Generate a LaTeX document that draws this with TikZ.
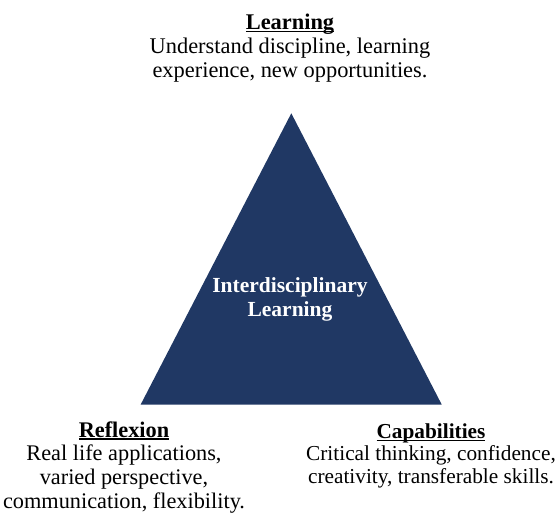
\documentclass[tikz,border=0pt]{standalone}
\usepackage{fontspec}
\setmainfont{Liberation Serif}

\definecolor{navy}{HTML}{203864}

% bold heading with a rule just under the baseline
\newcommand{\headline}[1]{\setbox0\hbox{\textbf{#1}}\rlap{\rule[-2.6pt]{\wd0}{1.3pt}}\box0}

\begin{document}
\begin{tikzpicture}[x=1pt, y=-1pt]
  \tikzset{
    corner/.style={align=center, anchor=base, inner sep=0pt},
    core/.style={align=center, anchor=base, inner sep=0pt, text=white,
                 font=\fontsize{21.5}{23.5}\selectfont\bfseries}
  }
  \useasboundingbox (0,0) rectangle (560,514);

  % the triangle
  \coordinate (apex) at (291.3,113.3);
  \coordinate (baseL) at (140.7,404.5);
  \coordinate (baseR) at (441.7,404.5);
  \fill[navy] (apex) -- (baseL) -- (baseR) -- cycle;

  % base anchor sits on the last line
  \node[core] (idl) at (290,316) {Interdisciplinary\\Learning};

  % the three corners
  \node[corner, font=\fontsize{22.4}{24}\selectfont] (learning) at (290,77.5)
    {\headline{Learning}\\Understand discipline, learning\\experience, new opportunities.};
  \node[corner, font=\fontsize{22.3}{23.8}\selectfont] (reflexion) at (124,508.5)
    {\headline{Reflexion}\\Real life applications,\\varied perspective,\\communication, flexibility.};
  \node[corner, font=\fontsize{21.3}{22.6}\selectfont] (capabilities) at (431,483.5)
    {\headline{Capabilities}\\Critical thinking, confidence,\\creativity, transferable skills.};
\end{tikzpicture}
\end{document}
